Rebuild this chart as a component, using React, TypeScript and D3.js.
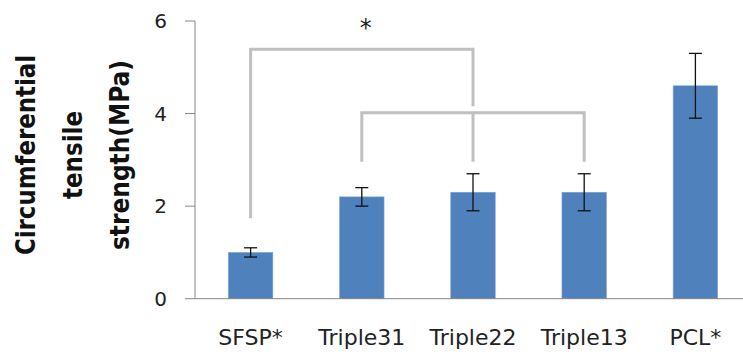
import React from 'react'
import { scaleBand, scaleLinear } from 'd3'

const categories = ['SFSP*', 'Triple31', 'Triple22', 'Triple13', 'PCL*']
const means = [1.0, 2.2, 2.3, 2.3, 4.6]
const errors = [0.1, 0.2, 0.4, 0.4, 0.7]
const yTicks = [0, 2, 4, 6]
const yTitleLines = ['Circumferential', 'tensile', 'strength(MPa)']

// significance brackets: which bars, where the top sits, where each leg stops
const outerBracket = { bars: ['SFSP*', 'Triple22'], top: 5.39, legEnds: [1.74, 4.16] }
const innerBracket = { bars: ['Triple31', 'Triple22', 'Triple13'], top: 4.02, legEnds: [2.96, 2.96, 2.96] }

export default function App() {
    const width = 743
    const height = 354
    const margin = { top: 21, left: 195 }
    const plotRight = 751

    const x = scaleBand()
        .domain(categories)
        .range([margin.left, plotRight])
        .paddingInner(0.6)
        .paddingOuter(0.3)
    const y = scaleLinear()
        .domain([0, 6])
        .range([298.7, margin.top])

    const cx = (c: string) => (x(c) as number) + x.bandwidth() / 2
    const grey = '#bfbfbf'
    const axisColor = '#868686'
    // the original title is squeezed sideways, so each line gets its measured length
    const titleBaselines = [35, 82, 129]
    const titleLengths = [200, 88, 190]
    const titleMid = 155

    const bracketPath = (b: { bars: string[]; top: number; legEnds: number[] }) => {
        const xs = b.bars.map(cx)
        let d = `M${xs[0]},${y(b.legEnds[0])}V${y(b.top)}H${xs[xs.length - 1]}V${y(b.legEnds[b.legEnds.length - 1])}`
        for (let i = 1; i < xs.length - 1; i++) {
            d += `M${xs[i]},${y(b.top)}V${y(b.legEnds[i])}`
        }
        return d
    }

    return (
        <svg width={width} height={height} style={{ position: 'absolute', left: 0, top: 0 }}
            fontFamily="'DejaVu Sans', sans-serif">
            {/* y axis */}
            <line x1={margin.left} x2={margin.left} y1={y(6)} y2={y(0)} stroke={axisColor} />
            {yTicks.map(t => (
                <g key={t}>
                    <line x1={margin.left - 10} x2={margin.left} y1={y(t)} y2={y(t)} stroke={axisColor} />
                    <text x={167} y={y(t)} dy="0.36em" textAnchor="end" fontSize={20} fill="#222">{t}</text>
                </g>
            ))}
            {/* bars */}
            {categories.map((c, i) => (
                <rect key={c} x={x(c)} y={y(means[i])} width={x.bandwidth()} height={y(0) - y(means[i])}
                    fill="#4f81bd" stroke="#7fa3d2" strokeWidth={0.6} />
            ))}
            <line x1={margin.left} x2={width} y1={y(0)} y2={y(0)} stroke={axisColor} />
            {/* error bars */}
            {categories.map((c, i) => (
                <g key={c} stroke="#111" strokeWidth={1.3}>
                    <line x1={cx(c)} x2={cx(c)} y1={y(means[i] + errors[i])} y2={y(means[i] - errors[i])} />
                    <line x1={cx(c) - 6.5} x2={cx(c) + 6.5} y1={y(means[i] + errors[i])} y2={y(means[i] + errors[i])} />
                    <line x1={cx(c) - 6.5} x2={cx(c) + 6.5} y1={y(means[i] - errors[i])} y2={y(means[i] - errors[i])} />
                </g>
            ))}
            {/* brackets */}
            <path d={bracketPath(outerBracket)} fill="none" stroke={grey} strokeWidth={3} />
            <path d={bracketPath(innerBracket)} fill="none" stroke={grey} strokeWidth={3} />
            <text x={(cx('SFSP*') + cx('Triple22')) / 2 + 4} y={y(outerBracket.top) - 13} textAnchor="middle" fontSize={24} fill="#222">*</text>
            {/* x labels */}
            {categories.map(c => (
                <text key={c} x={cx(c)} y={345} textAnchor="middle" fontSize={22} fill="#222">{c}</text>
            ))}
            {/* y title, rotated */}
            {yTitleLines.map((t, i) => (
                <text key={t} x={titleBaselines[i]} y={titleMid}
                    style={{
                        transform: 'rotate(-90deg)',
                        transformOrigin: `${titleBaselines[i]}px ${titleMid}px`,
                        transformBox: 'view-box',
                    }}
                    textAnchor="middle" fontSize={27} fontWeight="bold" fill="#111"
                    textLength={titleLengths[i]} lengthAdjust="spacingAndGlyphs">{t}</text>
            ))}
        </svg>
    )
}
